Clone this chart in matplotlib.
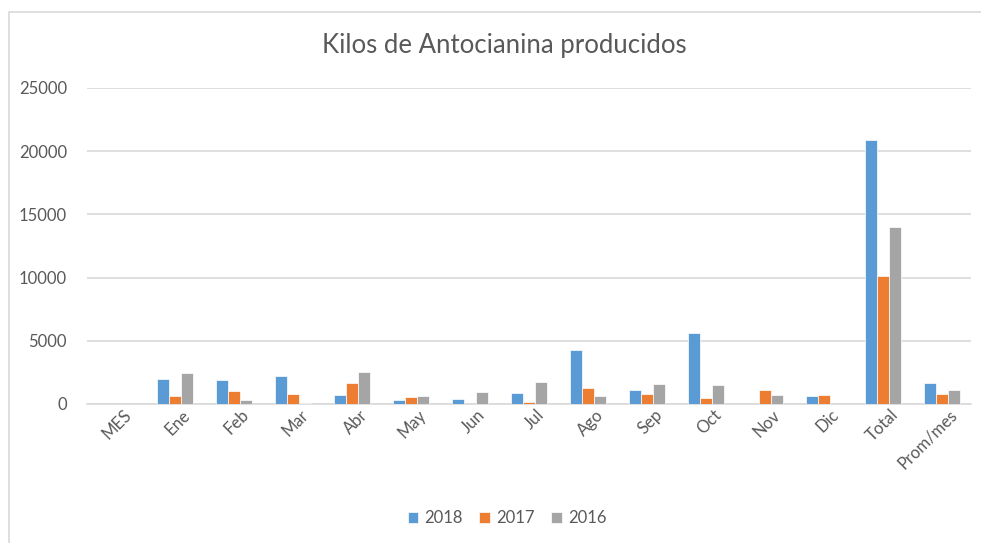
import matplotlib
matplotlib.use("Agg")
import matplotlib.pyplot as plt
import matplotlib.transforms as mtransforms
import numpy as np
from matplotlib.patches import Rectangle

categories = ["MES", "Ene", "Feb", "Mar", "Abr", "May", "Jun", "Jul", "Ago",
              "Sep", "Oct", "Nov", "Dic", "Total", "Prom/mes"]
s2018 = [0, 2000, 1900, 2220, 740, 330, 420, 870, 4240, 1130, 5640, 0, 635, 20880, 1670]
s2017 = [0, 650, 1030, 820, 1690, 560, 0, 160, 1270, 790, 475, 1110, 715, 10100, 800]
s2016 = [0, 2450, 330, 100, 2530, 650, 950, 1740, 630, 1580, 1500, 715, 0, 14010, 1140]
series_names = ["2018", "2017", "2016"]
colors = ["#5B9BD5", "#ED7D31", "#A5A5A5"]
yticks = [0, 5000, 10000, 15000, 20000, 25000]

plt.rcParams['font.family'] = ['Lato', 'DejaVu Sans']
W, H = 981, 543
fig = plt.figure(figsize=(W / 100, H / 100), dpi=100)

# chart area border
fig.patches.append(Rectangle((9 / W, -0.01), 1.0, 1 - 12 / H + 0.01, transform=fig.transFigure,
                             fill=False, edgecolor="#D9D9D9", linewidth=1.2))

ax = fig.add_axes([86.5 / W, 1 - 404 / H, 885 / W, (404 - 88) / H])
x = np.arange(len(categories))
bw = 0.207
for i, (vals, name, c) in enumerate(zip([s2018, s2017, s2016], series_names, colors)):
    ax.bar(x + (i - 1) * bw, vals, width=bw, color=c, edgecolor="white", linewidth=0.5,
           label=name, zorder=3)

ax.set_xlim(-0.5, len(categories) - 0.5)
ax.set_ylim(0, 25000)
ax.set_yticks(yticks)
ax.set_yticklabels([str(v) for v in yticks])
ax.yaxis.grid(True, color="#D9D9D9", linewidth=1.2, zorder=0)
ax.set_axisbelow(True)
for s in ["top", "right", "left"]:
    ax.spines[s].set_visible(False)
ax.spines["bottom"].set_color("#D9D9D9")
ax.spines["bottom"].set_linewidth(1.2)
ax.tick_params(axis="both", length=0, colors="#595959", labelsize=12)
ax.tick_params(axis="y", pad=14)
ax.set_xticks(x)
ax.set_xticklabels(categories, rotation=45, ha="right", rotation_mode="anchor")
ax.tick_params(axis="x", pad=2)
offset = mtransforms.ScaledTranslation(7 / 100, 0, fig.dpi_scale_trans)
for lab in ax.get_xticklabels():
    lab.set_transform(lab.get_transform() + offset)

fig.text(504 / W, 1 - 46 / H, "Kilos de Antocianina producidos", ha="center", va="center",
         fontsize=18.5, color="#595959")

leg = fig.legend(loc="center", bbox_to_anchor=(507 / W, 1 - 518 / H), ncol=3, frameon=False,
                 fontsize=12, handlelength=0.65, handleheight=0.65, handletextpad=0.35,
                 columnspacing=1.0)
for t in leg.get_texts():
    t.set_color("#595959")

fig.savefig("out.png", dpi=100)
